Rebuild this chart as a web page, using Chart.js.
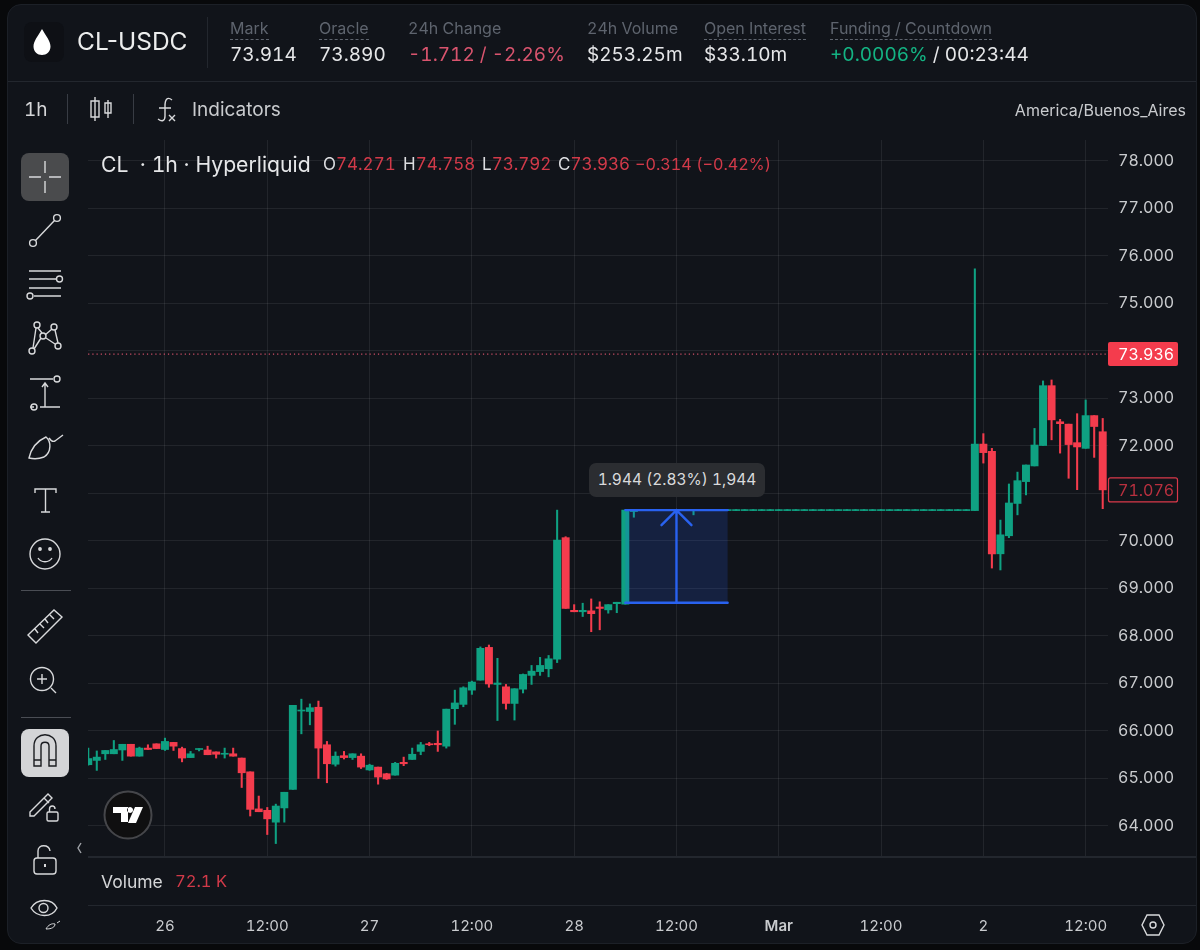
<!DOCTYPE html>
<html>
<head>
<meta charset="utf-8">
<script src="https://cdn.jsdelivr.net/npm/chart.js@4"></script>
<style>
  html, body { margin: 0; padding: 0; width: 1200px; height: 950px; overflow: hidden; background: #08090b; font-family: Inter, "Noto Sans", sans-serif; font-variant-numeric: tabular-nums; }
  #panel { position: absolute; left: 7px; top: 4px; width: 1190px; height: 940px; background: #11141a; border-radius: 14px; border: 1px solid #1c2027; box-sizing: border-box; }
  canvas { position: absolute; left: 0; top: 0; }
  .t { position: absolute; white-space: nowrap; line-height: 1; }
  .etq { font-size: 16px; color: #5e646e; top: 20px; }
  .sub { border-bottom: 1px dashed #5e646e; padding-bottom: 1px; }
  .val { font-size: 19px; color: #e6e7e9; top: 45px; }
  .ohlc { font-size: 17px; color: #dcdde0; top: 156px; }
  .ohlc span { color: #d23a49; }
  .linea { position: absolute; background: #23272e; }
  #medida { position: absolute; left: 589px; top: 463px; width: 176px; height: 34px; background: #2b2d31; border-radius: 7px; color: #d9dadc; font-size: 15.5px; line-height: 34px; text-align: center; }
  svg { position: absolute; left: 0; top: 0; }
</style>
</head>
<body>
<div id="panel"></div>
<canvas id="grafico" width="1200" height="950"></canvas>

<div class="linea" style="left:8px;top:81px;width:1188px;height:1px"></div>
<div class="linea" style="left:88px;top:856px;width:1108px;height:2px"></div>
<div class="linea" style="left:88px;top:905px;width:1108px;height:1px"></div>
<div class="linea" style="left:207px;top:17px;width:1px;height:51px"></div>
<div class="linea" style="left:67px;top:94px;width:1px;height:30px;background:#383c44"></div>
<div class="linea" style="left:133px;top:94px;width:1px;height:30px;background:#383c44"></div>
<div class="linea" style="left:21px;top:590px;width:50px;height:1px;background:#4a4d54"></div>
<div class="linea" style="left:21px;top:717px;width:50px;height:1px;background:#4a4d54"></div>

<div class="t" style="left:77px;top:29px;font-size:24.5px;color:#eceded;font-variant-numeric:normal">CL-USDC</div>
<div class="t etq" style="left:230px"><span class="sub">Mark</span></div>
<div class="t etq" style="left:319px"><span class="sub">Oracle</span></div>
<div class="t etq" style="left:408px">24h Change</div>
<div class="t etq" style="left:587px">24h Volume</div>
<div class="t etq" style="left:704px"><span class="sub">Open Interest</span></div>
<div class="t etq" style="left:830px"><span class="sub">Funding / Countdown</span></div>
<div class="t val" style="left:230px">73.914</div>
<div class="t val" style="left:319px">73.890</div>
<div class="t val" style="left:408px;color:#d9546e">-1.712 / -2.26%</div>
<div class="t val" style="left:587px">$253.25m</div>
<div class="t val" style="left:704px">$33.10m</div>
<div class="t val" style="left:830px"><span style="color:#14b383">+0.0006%</span> / 00:23:44</div>

<div class="t" style="left:24px;top:100px;font-size:19px;color:#d5d6d8">1h</div>
<div class="t" style="left:192px;top:100px;font-size:19px;color:#c9cbce">Indicators</div>
<div class="t" style="right:14px;top:102px;font-size:16px;color:#c9cbce">America/Buenos_Aires</div>

<div class="t" style="left:101px;top:154px;font-size:21.2px;color:#e6e7e9;white-space:pre">CL  · 1h · Hyperliquid</div>
<div class="t ohlc" style="left:323px">O<span>74.271</span></div>
<div class="t ohlc" style="left:403px">H<span>74.758</span></div>
<div class="t ohlc" style="left:482px">L<span>73.792</span></div>
<div class="t ohlc" style="left:558px">C<span>73.936</span></div>
<div class="t ohlc" style="left:635px;font-size:16.2px"><span>−0.314 (−0.42%)</span></div>

<div class="t" style="left:101px;top:873px;font-size:17.5px;color:#d5d6d8">Volume</div>
<div class="t" style="left:175px;top:873px;font-size:16.5px;color:#d23a49">72.1 K</div>
<div id="medida">1.944 (2.83%) 1,944</div>

<svg width="1200" height="950" fill="none" stroke="#d8d9db" stroke-width="1.4">
  <!-- gota -->
  <rect x="24" y="22" width="40" height="40" rx="8" fill="#0e1015" stroke="none"/>
  <path d="M42 29 C38 36 33.5 41 33.5 46.5 C33.5 51.5 37.5 55 42 55 C46.5 55 50.5 51.5 50.5 46.5 C50.5 41 46 36 42 29Z" fill="#fff" stroke="none"/>
  <!-- velas -->
  <path d="M95 97V121M95 101H91V117H99V101H95M108 100V118M108 103H105V113H111V103H108"/>
  <!-- fx -->
  <path d="M172 100C167 96 165 100 165 106V116C165 121 162 122 158 119M159 108H171M169 115L175 121M175 115L169 121"/>
  <!-- cruz -->
  <rect x="21" y="153" width="48" height="48" rx="8" fill="#4a4b4d" stroke="none"/>
  <path d="M29 177H41M49 177H61M45 161V173M45 181V193"/>
  <!-- linea -->
  <circle cx="33" cy="243" r="3.4"/><circle cx="57" cy="218" r="3.4"/><path d="M35.5 240.5L54.5 220.5"/>
  <!-- fib -->
  <path d="M29 271H61M29 279H56M29 288H61M34 296H61"/><circle cx="59.5" cy="279" r="3"/><circle cx="30" cy="296" r="3"/>
  <!-- patron -->
  <circle cx="37" cy="325" r="3"/><circle cx="54" cy="327" r="3"/><circle cx="43" cy="336" r="3"/><circle cx="32" cy="351" r="3"/><circle cx="58" cy="346" r="3"/>
  <path d="M38 328L42 333M33 348L36 328M45 335L52 329M46 338L55 344M55 330L58 343M34 349L41 338"/>
  <!-- rango -->
  <path d="M30 379H53M30 407H34M40 407H60M45 407V384M42 387L45 383L48 387"/><circle cx="57" cy="379" r="3"/><circle cx="34" cy="407" r="3"/>
  <!-- pincel -->
  <path d="M29 458C31 449 37 441 46 437C51 441 52 452 44 457C39 459 33 459 29 458ZM49 438C51 441 53 442 55 441L63 435"/>
  <!-- texto -->
  <path d="M35 493V489H56V493M45.5 489V512M41 512H50"/>
  <!-- cara -->
  <circle cx="45" cy="554" r="15"/><circle cx="40" cy="549" r="1.2" fill="#d8d9db"/><circle cx="50" cy="549" r="1.2" fill="#d8d9db"/><path d="M38 558C41 563 49 563 52 558"/>
  <!-- regla -->
  <path d="M28 635L54 610L62 617L36 643ZM35 629L38 633M40 624L44 628M45 619L48 623M50 615L54 619"/>
  <!-- lupa -->
  <circle cx="42" cy="679" r="11.5"/><path d="M51 688L56 693M42 674V684M37 679H47"/>
  <!-- iman -->
  <rect x="21" y="729" width="48" height="48" rx="8" fill="#d4d5d7" stroke="none"/>
  <path d="M34 766V746C34 731 56 731 56 746V766H49V746C49 741 41 741 41 746V766ZM34 760H41M49 760H56" stroke="#1a1c20"/>
  <!-- lapiz -->
  <path d="M30 812L48 794L52 798L34 816H30ZM44 798L49 803"/><rect x="47" y="812" width="11" height="9" rx="1.5"/><path d="M49.5 812V809C49.5 805 55 805 55 809"/>
  <!-- candado -->
  <rect x="34" y="858" width="22" height="16" rx="3"/><path d="M38 858V851C38 844 49 844 50 851"/><path d="M45 864V867" stroke-width="2"/>
  <!-- ojo -->
  <path d="M31 908C37 898 52 898 57 908C52 918 37 918 31 908Z"/><circle cx="43.5" cy="908" r="4.5"/>
  <path d="M46 929C48 925 52 923 55 924C55 927 52 929 46 929ZM57 923L60 921" stroke-width="1"/>
  <!-- flecha -->
  <path d="M81 843L78 848L81 853" stroke="#a0a3a8"/>
  <!-- logo -->
  <circle cx="128" cy="815" r="23.5" fill="#0f0f10" stroke="#45464a" stroke-width="2"/>
  <path d="M113 807H128V822H121V813H113ZM135 807H143L136 823H128ZM130 807a3 3 0 1 0 .1 0Z" fill="#fff" stroke="none"/>
  <!-- ajustes -->
  <path d="M1147 915H1159L1164 925L1159 935H1147L1142 925Z"/><circle cx="1153" cy="925" r="3"/>
</svg>

<script>
// horas desde el dia 26 a las 00:00, una vela por hora
const horas = [
  -9, -8, -7, -6, -5, -4, -3, -2, -1,
  0, 1, 2, 3, 4, 5, 6, 7, 8, 9, 10, 11, 12, 13, 14, 15, 16, 17, 18, 19,
  20, 21, 22, 23, 24, 25, 26, 27, 28, 29, 30, 31, 32, 33, 34, 35, 36, 37, 38, 39,
  40, 41, 42, 43, 44, 45, 46, 47, 48, 49, 50, 51, 52, 53, 54, 55, 56, 57, 58, 59,
  60, 61, 62, 63, 64, 65, 66, 67, 68, 69, 70, 71, 72, 73, 74, 75, 76, 77, 78, 79,
  80, 81, 82, 83, 84, 85, 86, 87, 88, 89, 90, 91, 92, 93, 94, 95, 96, 97, 98, 99,
  100, 101, 102, 103, 104, 105, 106, 107, 108, 109, 110
];

const aperturas = [
  65.29, 65.38, 65.52, 65.52, 65.60, 65.72, 65.47, 65.64, 65.73,
  65.61, 65.76, 65.63, 65.44, 65.61, 65.60, 65.56, 65.51, 65.52, 65.43,
  65.14, 64.36, 64.33, 64.08, 64.38, 64.77, 66.42, 66.41, 66.50, 65.71,
  65.30, 65.48, 65.44, 65.47, 65.18, 65.24, 65.10, 65.07, 65.34, 65.40,
  65.57, 65.73, 65.74, 65.68, 66.47, 66.56, 66.86, 67.07, 67.76, 66.98,
  66.93, 66.58, 66.88, 67.17, 67.25, 67.31, 67.51, 70.07, 68.54, 68.51,
  68.53, 68.61, 68.55, 68.68, 68.67, 70.62,
  70.64, 70.64, 70.64, 70.64, 70.64, 70.64, 70.64, 70.64, 70.64, 70.64,
  70.64, 70.64, 70.64, 70.64, 70.64, 70.64, 70.64, 70.64, 70.64, 70.64,
  70.64, 70.64, 70.64, 70.64, 70.64, 70.64, 70.64, 70.64, 70.64, 70.64,
  70.64, 70.64, 70.64, 70.64, 70.64, 70.64, 70.64, 70.64, 70.64,
  70.64, 72.04, 71.89, 69.73, 70.11, 70.79, 71.25, 71.58, 72.01, 73.27, 72.51, 72.46, 72.07, 71.95, 72.64, 72.30
];

const maximos = [
  65.64, 65.58, 65.59, 65.80, 65.72, 65.72, 65.66, 65.71, 65.73,
  65.85, 65.76, 65.66, 65.57, 65.63, 65.68, 65.56, 65.64, 65.64, 65.43,
  65.14, 64.63, 64.39, 64.46, 64.71, 66.54, 66.67, 66.57, 66.63, 65.78,
  65.56, 65.57, 65.52, 65.52, 65.30, 65.24, 65.11, 65.34, 65.45, 65.64,
  65.76, 65.76, 66.00, 66.46, 66.86, 66.93, 67.05, 67.77, 67.81, 67.53,
  66.98, 66.89, 67.20, 67.38, 67.55, 67.59, 70.65, 70.09, 68.66, 68.69,
  68.78, 68.72, 68.66, 68.71, 70.65, 70.65,
  70.65, 70.65, 70.65, 70.65, 70.65, 70.65, 70.65, 70.65, 70.65, 70.65,
  70.65, 70.65, 70.65, 70.65, 70.65, 70.65, 70.65, 70.65, 70.65, 70.65,
  70.65, 70.65, 70.65, 70.65, 70.65, 70.65, 70.65, 70.65, 70.65, 70.65,
  70.65, 70.65, 70.65, 70.65, 70.65, 70.65, 70.65, 70.65, 70.65,
  75.73, 72.26, 71.95, 70.44, 71.20, 71.45, 71.60, 72.37, 73.37, 73.39, 72.56, 72.46, 72.68, 72.97, 72.64, 72.58
];

const minimos = [
  65.28, 65.17, 65.40, 65.52, 65.38, 65.47, 65.47, 65.61, 65.63,
  65.59, 65.59, 65.35, 65.44, 65.58, 65.50, 65.43, 65.43, 65.47, 64.81,
  64.21, 64.30, 63.82, 63.63, 64.08, 64.77, 65.94, 66.13, 65.00, 64.91,
  65.26, 65.41, 65.40, 65.21, 65.17, 64.88, 64.98, 65.07, 65.27, 65.40,
  65.50, 65.69, 65.57, 65.64, 66.14, 66.51, 66.77, 67.07, 66.92, 66.22,
  66.46, 66.23, 66.80, 66.98, 67.17, 67.14, 67.44, 68.58, 68.51, 68.41,
  68.09, 68.13, 68.48, 68.49, 68.67, 70.50,
  70.64, 70.64, 70.64, 70.64, 70.64, 70.64, 70.55, 70.64, 70.64, 70.64,
  70.64, 70.64, 70.64, 70.64, 70.64, 70.64, 70.64, 70.64, 70.64, 70.64,
  70.64, 70.64, 70.64, 70.64, 70.64, 70.64, 70.64, 70.64, 70.64, 70.64,
  70.64, 70.64, 70.64, 70.64, 70.64, 70.64, 70.64, 70.64, 70.64,
  70.64, 71.64, 69.43, 69.39, 70.07, 70.55, 70.97, 71.58, 72.01, 72.13, 71.85, 71.32, 71.08, 71.95, 71.76, 70.68
];

const cierres = [
  65.42, 65.45, 65.59, 65.61, 65.72, 65.47, 65.64, 65.61, 65.63,
  65.78, 65.68, 65.43, 65.52, 65.63, 65.50, 65.51, 65.53, 65.47, 65.12,
  64.35, 64.30, 64.15, 64.42, 64.71, 66.54, 66.44, 66.49, 65.64, 65.31,
  65.47, 65.44, 65.52, 65.24, 65.28, 65.03, 64.99, 65.32, 65.31, 65.51,
  65.71, 65.71, 65.71, 66.46, 66.59, 66.91, 67.03, 67.74, 66.99, 67.01,
  66.58, 66.89, 67.19, 67.26, 67.38, 67.52, 70.02, 68.58, 68.51, 68.54,
  68.47, 68.58, 68.66, 68.71, 70.65, 70.65,
  70.65, 70.65, 70.65, 70.65, 70.65, 70.65, 70.65, 70.65, 70.65, 70.65,
  70.65, 70.65, 70.65, 70.65, 70.65, 70.65, 70.65, 70.65, 70.65, 70.65,
  70.65, 70.65, 70.65, 70.65, 70.65, 70.65, 70.65, 70.65, 70.65, 70.65,
  70.65, 70.65, 70.65, 70.65, 70.65, 70.65, 70.65, 70.65, 70.65,
  72.04, 71.86, 69.73, 70.13, 70.80, 71.27, 71.60, 72.02, 73.27, 72.55, 72.47, 72.03, 71.98, 72.64, 72.41, 71.076
];

const horasEje = [0, 12, 24, 36, 48, 60, 72, 84, 96, 108];
const etiquetasEje = ['26', '12:00', '27', '12:00', '28', '12:00', 'Mar', '12:00', '2', '12:00'];

const precioMarca = 73.936;
const precioUltimo = 71.076;
const medidaPrecios = [68.70, 70.65];
const medidaHoras = [54, 66];

const VERDE = '#0fa182';
const ROJO = '#f43c4d';
const FONDO = '#11141a';

const colores = cierres.map((c, i) => (c >= aperturas[i] ? VERDE : ROJO));

// dibuja la herramienta de medida y las etiquetas de precio
const extras = {
  id: 'extras',
  afterDraw(chart) {
    const { ctx, scales } = chart;
    const x0 = scales.x.getPixelForValue(medidaHoras[0]);
    const x1 = scales.x.getPixelForValue(medidaHoras[1]);
    const xm = (x0 + x1) / 2;
    const y0 = scales.y.getPixelForValue(medidaPrecios[0]);
    const y1 = scales.y.getPixelForValue(medidaPrecios[1]);

    ctx.save();
    ctx.fillStyle = 'rgba(41, 98, 255, 0.17)';
    ctx.fillRect(x0, y1, x1 - x0, y0 - y1);
    ctx.strokeStyle = '#2962f0';
    ctx.lineWidth = 2.4;
    ctx.lineCap = 'round';
    ctx.beginPath();
    ctx.moveTo(x0, y1); ctx.lineTo(x1, y1);
    ctx.moveTo(x0, y0); ctx.lineTo(x1, y0);
    ctx.moveTo(xm, y0); ctx.lineTo(xm, y1);
    ctx.moveTo(xm - 15, y1 + 15); ctx.lineTo(xm, y1); ctx.lineTo(xm + 15, y1 + 15);
    ctx.stroke();

    ctx.font = '16px Inter';
    ctx.textBaseline = 'middle';
    const yM = scales.y.getPixelForValue(precioMarca);
    ctx.fillStyle = ROJO;
    ctx.beginPath();
    ctx.roundRect(1108, yM - 12, 70, 24, 2);
    ctx.fill();
    ctx.fillStyle = '#fff';
    ctx.fillText(precioMarca.toFixed(3), 1118, yM + 1);

    const yU = scales.y.getPixelForValue(precioUltimo);
    ctx.fillStyle = FONDO;
    ctx.strokeStyle = '#d9384a';
    ctx.lineWidth = 1.2;
    ctx.beginPath();
    ctx.roundRect(1108.5, yU - 12, 69, 24, 2);
    ctx.fill();
    ctx.stroke();
    ctx.fillStyle = '#b8303f';
    ctx.fillText(precioUltimo.toFixed(3), 1118, yU + 1);
    ctx.restore();
  }
};

new Chart(document.getElementById('grafico'), {
  type: 'bar',
  data: {
    datasets: [
      {
        type: 'line',
        data: [{ x: -10, y: precioMarca }, { x: 112, y: precioMarca }],
        borderColor: '#d4506a',
        borderWidth: 1.2,
        borderDash: [1.2, 3],
        pointRadius: 0,
        order: 3
      },
      {
        data: horas.map((h, i) => ({ x: h, y: [minimos[i], maximos[i]] })),
        backgroundColor: colores,
        barThickness: 1.4,
        minBarLength: 1,
        order: 2
      },
      {
        data: horas.map((h, i) => ({ x: h, y: [aperturas[i], cierres[i]] })),
        backgroundColor: colores,
        barThickness: 7.3,
        minBarLength: 1,
        order: 1
      }
    ]
  },
  plugins: [extras],
  options: {
    responsive: false,
    animation: false,
    events: [],
    layout: { padding: { left: 88, top: 140, right: 0, bottom: 0 } },
    plugins: { legend: { display: false }, tooltip: { enabled: false } },
    datasets: { bar: { grouped: false } },
    scales: {
      x: {
        type: 'linear',
        min: -9.03,
        max: 110.62,
        offset: false,
        border: { display: false },
        grid: { color: 'rgba(255,255,255,0.075)', drawTicks: false, offset: false },
        afterFit(scale) { scale.height = 93; },
        afterBuildTicks(scale) { scale.ticks = horasEje.map((v) => ({ value: v })); },
        ticks: {
          autoSkip: false,
          maxRotation: 0,
          padding: 60,
          color: '#c9cbce',
          font: (c) => ({ family: 'Inter', size: 15, weight: c.tick && c.tick.value === 72 ? '600' : '400' }),
          callback: (v) => etiquetasEje[horasEje.indexOf(v)]
        }
      },
      y: {
        position: 'right',
        min: 63.347,
        max: 78.442,
        border: { display: false },
        grid: { color: 'rgba(255,255,255,0.075)', drawTicks: false },
        afterFit(scale) { scale.width = 92; },
        ticks: {
          stepSize: 1,
          includeBounds: false,
          padding: 10,
          color: '#c9cbce',
          font: { family: 'Inter', size: 16 },
          callback: (v) => v.toFixed(3)
        }
      }
    }
  }
});
</script>
</body>
</html>
